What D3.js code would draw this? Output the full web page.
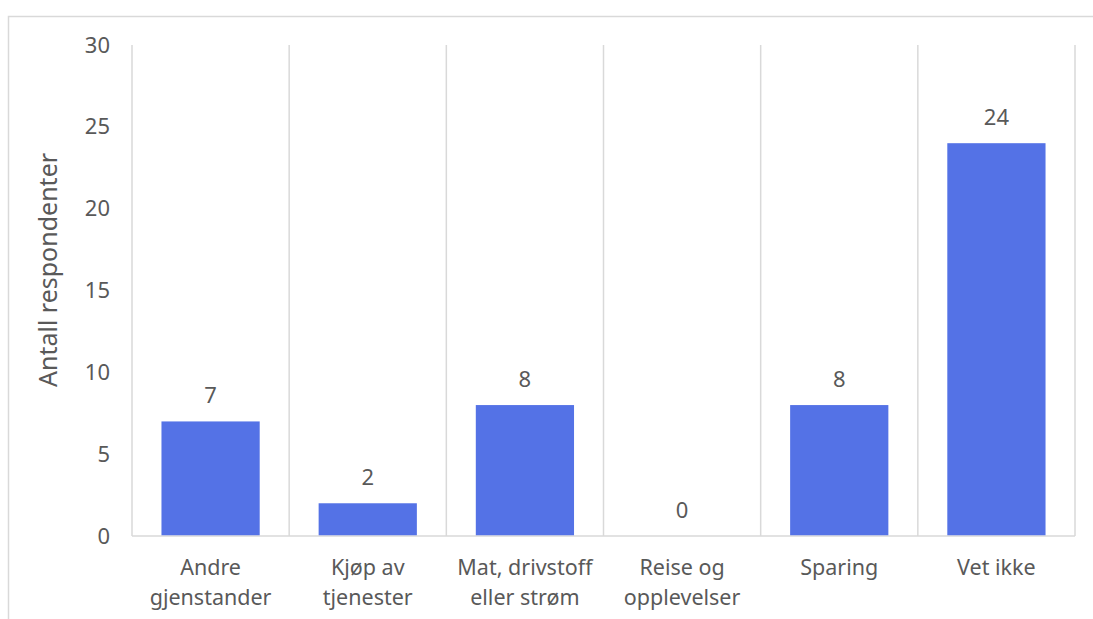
<!DOCTYPE html>
<html><head><meta charset="utf-8">
<script src="https://cdn.jsdelivr.net/npm/d3@7"></script>
<style>body{margin:0;background:#fff;} text{font-family:"Noto Sans",Lato,sans-serif;}</style>
</head><body>
<svg id="c" width="1093" height="619"></svg>
<script>
const categories = [["Andre","gjenstander"],["Kjøp av","tjenester"],["Mat, drivstoff","eller strøm"],["Reise og","opplevelser"],["Sparing"],["Vet ikke"]];
const values = [7,2,8,0,8,24];
const yTicks = [0,5,10,15,20,25,30];
const yTitle = "Antall respondenter";

const svg = d3.select("#c");
const mLeft = 132, mRight = 1075, mTop = 45, mBottom = 536;
const grey = "#d9d9d9", txt = "#595959";

// chart border
svg.append("path").attr("d","M8.5,619 L8.5,16.5 L1093,16.5").attr("fill","none").attr("stroke",grey).attr("stroke-width",1.5);

const x = d3.scaleBand().domain(d3.range(categories.length)).range([mLeft,mRight]).paddingInner(0).paddingOuter(0);
const y = d3.scaleLinear().domain([0,30]).range([mBottom,mTop]);

// vertical separators
const seps = d3.range(categories.length+1).map(i => i < categories.length ? x(i) : mRight);
svg.selectAll(".sep").data(seps).enter().append("line")
  .attr("x1",d=>d).attr("x2",d=>d).attr("y1",mTop).attr("y2",mBottom)
  .attr("stroke",grey).attr("stroke-width",1.5);

// baseline
svg.append("line").attr("x1",mLeft).attr("x2",mRight).attr("y1",mBottom).attr("y2",mBottom).attr("stroke",grey).attr("stroke-width",1.5);

const bw = x.bandwidth()*0.625;
svg.selectAll(".bar").data(values).enter().append("rect")
  .attr("x",(d,i)=>x(i)+(x.bandwidth()-bw)/2).attr("width",bw)
  .attr("y",d=>y(d)).attr("height",d=>Math.max(0,mBottom-y(d)-0.75))
  .attr("fill","#5472E6");

svg.selectAll(".lbl").data(values).enter().append("text")
  .attr("x",(d,i)=>x(i)+x.bandwidth()/2).attr("y",d=>y(d)-18)
  .attr("text-anchor","middle").attr("font-size",22).attr("fill",txt).text(d=>d);

svg.selectAll(".yt").data(yTicks).enter().append("text")
  .attr("x",110).attr("y",d=>y(d)+7.5).attr("text-anchor","end")
  .attr("font-size",22).attr("fill",txt).text(d=>d);

categories.forEach((lines,i)=>{
  const t = svg.append("text").attr("text-anchor","middle").attr("font-size",21.5).attr("fill",txt);
  lines.forEach((l,j)=>t.append("tspan").attr("x",x(i)+x.bandwidth()/2).attr("y",575+j*30).text(l));
});

svg.append("text").attr("transform","translate(57,270) rotate(-90)")
  .attr("text-anchor","middle").attr("font-size",25).attr("fill",txt).text(yTitle);
</script>
</body></html>
